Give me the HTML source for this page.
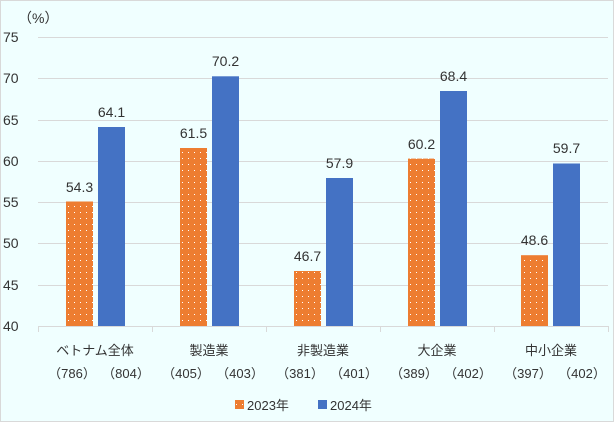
<!DOCTYPE html>
<html><head><meta charset="utf-8"><style>
html,body{margin:0;padding:0;background:#f0ffff;}
svg{display:block;font-family:"Liberation Sans","Noto Sans CJK JP",sans-serif;}
</style></head><body>
<svg width="614" height="422" viewBox="0 0 614 422" xmlns="http://www.w3.org/2000/svg">
<defs>
<pattern id="dots" width="6" height="6" patternUnits="userSpaceOnUse">
<rect width="6" height="6" fill="#ed7d31"/>
<rect x="2" y="2" width="1" height="1" fill="#fff"/>
</pattern>
</defs>
<rect x="0.5" y="0.5" width="613" height="421" fill="#f0ffff" stroke="#d9d9d9"/>
<g stroke="#d9d9d9" stroke-width="1">
<line x1="38" x2="608" y1="37.5" y2="37.5"/>
<line x1="38" x2="608" y1="78.5" y2="78.5"/>
<line x1="38" x2="608" y1="120.5" y2="120.5"/>
<line x1="38" x2="608" y1="161.5" y2="161.5"/>
<line x1="38" x2="608" y1="202.5" y2="202.5"/>
<line x1="38" x2="608" y1="243.5" y2="243.5"/>
<line x1="38" x2="608" y1="285.5" y2="285.5"/>
<line x1="38" x2="608" y1="326.5" y2="326.5"/>
<line x1="38.5" x2="38.5" y1="326" y2="332"/>
<line x1="152.5" x2="152.5" y1="326" y2="332"/>
<line x1="266.5" x2="266.5" y1="326" y2="332"/>
<line x1="380.5" x2="380.5" y1="326" y2="332"/>
<line x1="494.5" x2="494.5" y1="326" y2="332"/>
<line x1="608.5" x2="608.5" y1="326" y2="332"/>
</g>
<g font-size="14" fill="#333" text-anchor="start">
<text x="3" y="42">75</text><text x="3" y="83">70</text><text x="3" y="125">65</text>
<text x="3" y="166">60</text><text x="3" y="207">55</text><text x="3" y="248">50</text>
<text x="3" y="290">45</text><text x="3" y="331">40</text>
</g>
<text x="18" y="23" font-size="14" fill="#333">（%）</text>
<g>
<rect x="66" y="201.5" width="27" height="124.5" fill="url(#dots)"/>
<rect x="98" y="127" width="27" height="199" fill="#4472c4"/>
<rect x="180" y="148" width="27" height="178" fill="url(#dots)"/>
<rect x="212" y="76.3" width="27" height="249.7" fill="#4472c4"/>
<rect x="294" y="271" width="27" height="55" fill="url(#dots)"/>
<rect x="326" y="178" width="27" height="148" fill="#4472c4"/>
<rect x="408" y="158.6" width="27" height="167.4" fill="url(#dots)"/>
<rect x="440" y="91" width="27" height="235" fill="#4472c4"/>
<rect x="521" y="255.2" width="27" height="70.8" fill="url(#dots)"/>
<rect x="553" y="163.5" width="27" height="162.5" fill="#4472c4"/>
</g>
<g font-size="14" fill="#333" text-anchor="middle">
<text x="79.5" y="192">54.3</text><text x="111.5" y="117">64.1</text>
<text x="193.5" y="138">61.5</text><text x="225.5" y="66">70.2</text>
<text x="307.5" y="261">46.7</text><text x="339.5" y="168">57.9</text>
<text x="421.5" y="149">60.2</text><text x="453.5" y="81">68.4</text>
<text x="534.5" y="245">48.6</text><text x="566.5" y="153">59.7</text>
</g>
<g font-size="13" fill="#333" text-anchor="middle">
<text x="95" y="355">ベトナム全体</text>
<text x="209" y="355">製造業</text>
<text x="323" y="355">非製造業</text>
<text x="437" y="355">大企業</text>
<text x="551" y="355">中小企業</text>
<text x="72" y="378">（786）</text><text x="126" y="378">（804）</text>
<text x="186" y="378">（405）</text><text x="240" y="378">（403）</text>
<text x="300" y="378">（381）</text><text x="354" y="378">（401）</text>
<text x="414" y="378">（389）</text><text x="468" y="378">（402）</text>
<text x="528" y="378">（397）</text><text x="582" y="378">（402）</text>
</g>
<rect x="235" y="400" width="9" height="9" fill="url(#dots)"/>
<text x="247" y="410" font-size="13" fill="#333">2023年</text>
<rect x="318" y="400" width="9" height="9" fill="#4472c4"/>
<text x="330" y="410" font-size="13" fill="#333">2024年</text>
</svg>
</body></html>
